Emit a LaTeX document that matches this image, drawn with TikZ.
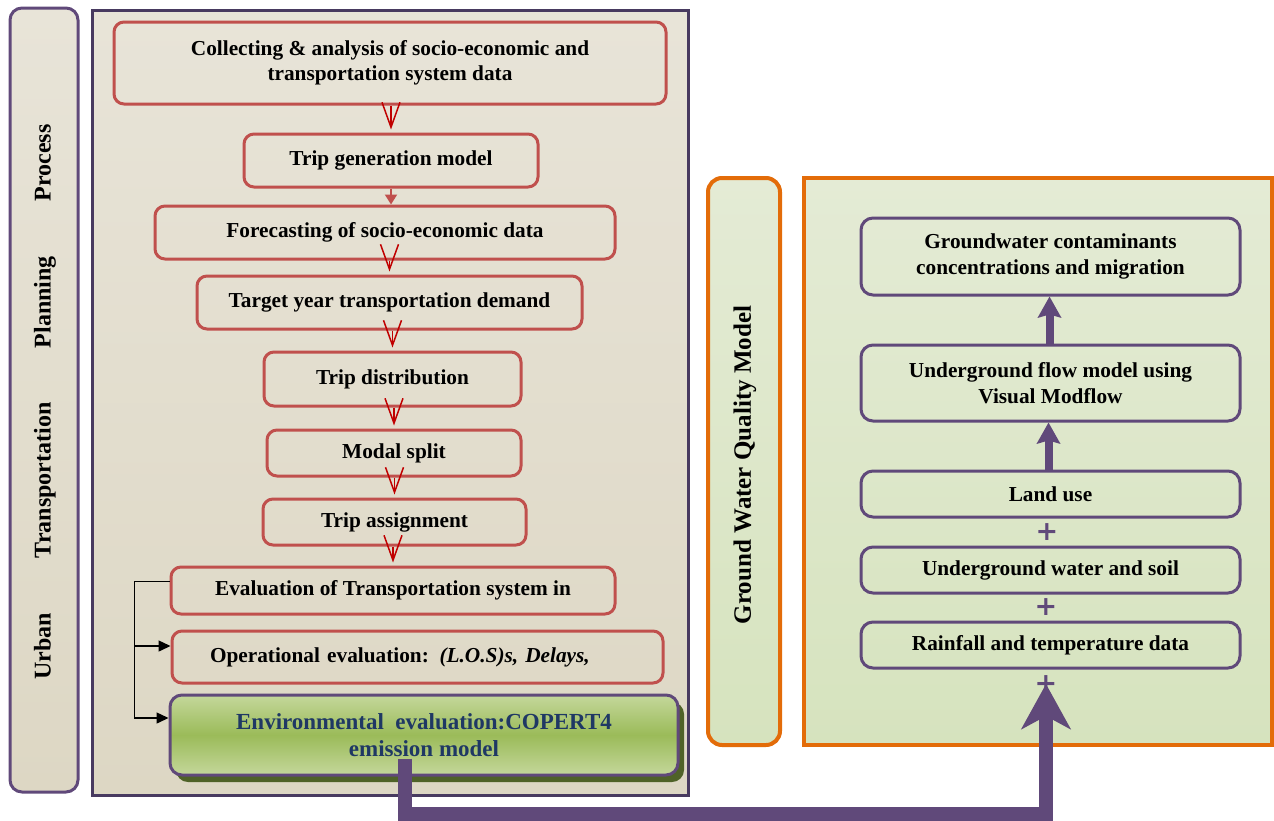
\documentclass[tikz,border=0pt]{standalone}
\usepackage{fontspec}
\setmainfont{Liberation Serif}
\newfontfamily\plusfont{DejaVu Sans}
\usepackage{tikz}
\usepackage{xcolor}
\usetikzlibrary{arrows.meta, positioning, calc, shadows}
\definecolor{cRedBox}{RGB}{192,80,77}
\definecolor{cRedArr}{RGB}{192,0,0}
\definecolor{cPurple}{RGB}{96,73,122}
\definecolor{cFrame}{RGB}{72,58,96}
\definecolor{cOrange}{RGB}{227,108,9}
\definecolor{cBeigeT}{RGB}{232,228,216}
\definecolor{cBeigeB}{RGB}{221,215,196}
\definecolor{cGreenT}{RGB}{228,235,213}
\definecolor{cGreenB}{RGB}{214,227,190}
\definecolor{cEnvL}{RGB}{196,215,155}
\definecolor{cEnvM}{RGB}{155,187,89}
\definecolor{cEnvShadow}{RGB}{79,98,40}
\definecolor{cEnvText}{RGB}{31,56,100}
\tikzset{
	boxfont/.style  ={font=\bfseries\fontsize{21.3}{25.5}\selectfont},
	tpbox/.style    ={rectangle, rounded corners=10pt, draw=cRedBox, line width=3pt, align=center, boxfont, inner sep=2pt},
	gwbox/.style    ={rectangle, rounded corners=12pt, draw=cPurple, line width=3pt, align=center, boxfont, inner sep=2pt, minimum width=379pt},
	envbox/.style   ={rectangle, rounded corners=12pt, draw=cPurple, line width=3pt, align=center, text=cEnvText,
		font=\bfseries\fontsize{23}{27}\selectfont,
		top color=cEnvL, bottom color=cEnvL, middle color=cEnvM,
		drop shadow={shadow xshift=6pt, shadow yshift=-7pt, fill=cEnvShadow, opacity=1}},
	sidelabel/.style={rotate=90, font=\bfseries\fontsize{24}{28}\selectfont},
	% arrows
	vflow/.style    ={draw=cRedArr, line width=1.5pt, -{Straight Barb[length=25pt, width=18pt]}, shorten >=3pt},
	smallflow/.style={draw=cRedBox, line width=2pt, -{Triangle[length=10pt, width=12pt]}},
	evalline/.style ={draw=black, line width=1.5pt, -{Triangle[length=12pt, width=11pt]}},
	gwflow/.style   ={draw=cPurple, line width=8pt, -{Stealth[length=21pt, width=23pt, inset=3pt]}},
	bigflow/.style  ={draw=cPurple, line width=14pt, miter limit=10, -{Stealth[length=45pt, width=49pt, inset=13pt]}},
	plussign/.style ={text=cPurple, font=\plusfont\bfseries\fontsize{27}{27}\selectfont, inner sep=0pt},
}

\begin{document}
\begin{tikzpicture}[x=1pt, y=-1pt]
	\useasboundingbox (0,0) rectangle (1274,820);

	% transportation planning side
	\node[draw=cPurple, line width=3pt, rounded corners=12pt, top color=cBeigeT, bottom color=cBeigeB, minimum width=68pt, minimum height=784pt] (tplab) at (44,400) {};
	\node[sidelabel] (tplabtxt) at (45,402) {\makebox[555pt][s]{Urban Transportation Planning Process}};
	\node[draw=cFrame, line width=3pt, top color=cBeigeT, bottom color=cBeigeB, minimum width=596pt, minimum height=785pt] (tpframe) at (390,402.5) {};

	\node[tpbox, minimum width=552pt, minimum height=82pt] (c1) at (390,63) {Collecting \& analysis of socio-economic and\\transportation system data};
	\node[tpbox, minimum width=294pt, minimum height=53pt] (c2) at (391,160.5) {Trip generation model};
	\node[tpbox, minimum width=460pt, minimum height=53pt] (c3) at (385,232.5) {Forecasting of socio-economic data};
	\node[tpbox, minimum width=385pt, minimum height=53pt] (c4) at (389.5,302.5) {Target year transportation demand};
	\node[tpbox, minimum width=257pt, minimum height=54pt] (c5) at (392.5,379) {Trip distribution};
	\node[tpbox, minimum width=254pt, minimum height=46pt] (c6) at (394,453) {Modal split};
	\node[tpbox, minimum width=263pt, minimum height=46pt] (c7) at (394.5,522) {Trip assignment};
	\node[tpbox, minimum width=444pt, minimum height=47pt] (c8) at (393,590.5) {Evaluation of Transportation system in};
	\node[tpbox, minimum width=491pt, minimum height=52pt, text width=415pt, inner xsep=38pt, align=left] (c9) at (417.5,657) {Operational evaluation: \textit{(L.O.S)s, Delays,}};
	\node[envbox, minimum width=508pt, minimum height=80pt] (env) at (424,735) {Environmental \ evaluation:COPERT4\\emission model};

	\draw[vflow] (c1.south -| c2.north) -- (c2.north);
	\draw[smallflow] (c2.south) -- (c3.north -| c2.south);
	\draw[vflow] (c3.south -| c4.north) -- (c4.north);
	\draw[vflow] (c4.south -| c5.north) -- (c5.north);
	\draw[vflow] (c5.south -| c6.north) -- (c6.north);
	\draw[vflow] (c6.south -| c7.north) -- (c7.north);
	\draw[vflow] (c7.south -| c8.north) -- (c8.north);

	\draw[evalline] ($(c8.west)+(0,-9)$) -- ++(-35,0) |- ($(env.west)+(0,-17)$);
	\coordinate (tkmid) at ($(c9.west)+(-36,-11)$);
	\draw[evalline] (tkmid) -- ($(c9.west)+(0,-11)$);

	% ground water side
	\node[draw=cOrange, line width=4pt, rounded corners=14pt, top color=cGreenT, bottom color=cGreenB, minimum width=72pt, minimum height=567pt] (gwlab) at (744,461.5) {};
	\node[sidelabel, font=\bfseries\fontsize{25}{28}\selectfont] (gwlabtxt) at (745,465) {Ground Water Quality Model};
	\node[draw=cOrange, line width=4pt, top color=cGreenT, bottom color=cGreenB, minimum width=468pt, minimum height=567pt] (gwframe) at (1038,461.5) {};

	\node[gwbox, minimum height=77pt] (g1) at (1050.5,256.5) {Groundwater contaminants\\concentrations and migration};
	\node[gwbox, minimum height=76pt] (g2) at (1050.5,383) {Underground flow model using\\Visual Modflow};
	\node[gwbox, minimum height=46pt] (g3) at (1050.5,494) {Land use};
	\node[gwbox, minimum height=46pt] (g4) at (1050.5,570) {Underground water and soil};
	\node[gwbox, minimum height=46pt] (g5) at (1050.5,645) {Rainfall and temperature data};

	\node[plussign] (plusA) at (1047,532) {+};
	\node[plussign] (plusB) at (1046,607) {+};
	\node[plussign] (plusC) at (1046,684) {+};

	\draw[gwflow] ($(g3.north)+(-2,0)$) -- ($(g2.south)+(-2,0)$);
	\draw[gwflow] ($(g2.north)+(-1,0)$) -- ($(g1.south)+(-1,0)$);

	\coordinate (envout) at ($(env.south)+(-19,-18)$);
	\draw[bigflow] (envout) -- ++(0,55) -| (plusC.center);
\end{tikzpicture}
\end{document}
